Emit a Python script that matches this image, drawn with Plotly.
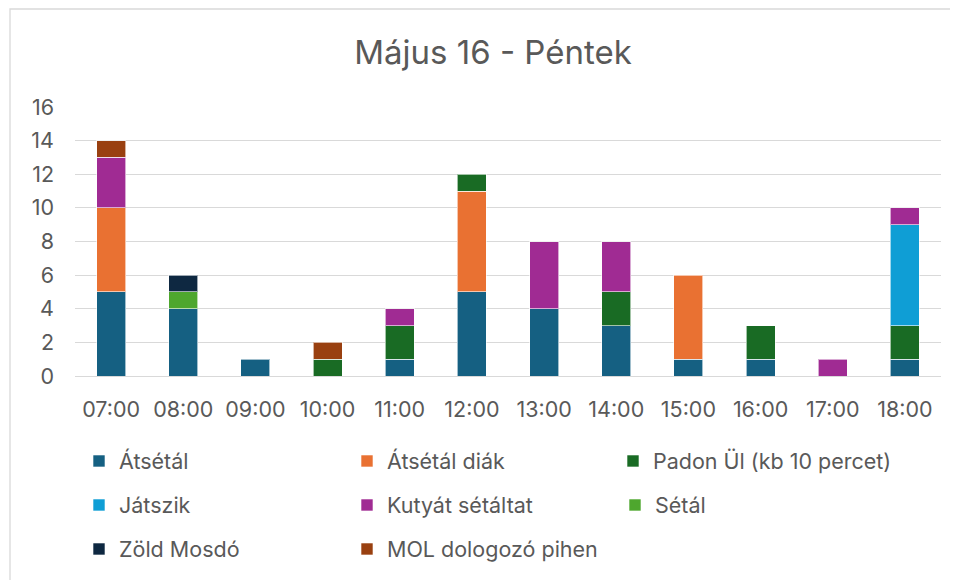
import plotly.graph_objects as go

hours = ["07:00", "08:00", "09:00", "10:00", "11:00", "12:00",
         "13:00", "14:00", "15:00", "16:00", "17:00", "18:00"]

atsetal       = [5, 4, 1, 0, 1, 5, 4, 3, 1, 1, 0, 1]
atsetal_diak  = [5, 0, 0, 0, 0, 6, 0, 0, 5, 0, 0, 0]
padon_ul      = [0, 0, 0, 1, 2, 1, 0, 2, 0, 2, 0, 2]
jatszik       = [0, 0, 0, 0, 0, 0, 0, 0, 0, 0, 0, 6]
kutyat        = [3, 0, 0, 0, 1, 0, 4, 3, 0, 0, 1, 1]
setal         = [0, 1, 0, 0, 0, 0, 0, 0, 0, 0, 0, 0]
zold_mosdo    = [0, 1, 0, 0, 0, 0, 0, 0, 0, 0, 0, 0]
mol_pihen     = [1, 0, 0, 1, 0, 0, 0, 0, 0, 0, 0, 0]

series = [
    ("Átsétál", atsetal, "#156082", "legend"),
    ("Átsétál diák", atsetal_diak, "#E97132", "legend"),
    ("Padon Ül (kb 10 percet)", padon_ul, "#196B24", "legend4"),
    ("Játszik", jatszik, "#0F9ED5", "legend2"),
    ("Kutyát sétáltat", kutyat, "#A02B93", "legend2"),
    ("Sétál", setal, "#4EA72E", "legend2"),
    ("Zöld Mosdó", zold_mosdo, "#0E2841", "legend3"),
    ("MOL dologozó pihen", mol_pihen, "#994010", "legend3"),
]

TXT = "#595959"
FONT = "Inter"
W, H = 950, 572
ML, MR, MT, MB = 67, 17, 99, 204
PW, PH = W - ML - MR, H - MT - MB

fig = go.Figure()
for name, vals, color, lg in series:
    fig.add_trace(go.Bar(
        x=hours, y=[v if v else None for v in vals], name=name,
        marker=dict(color=color, line=dict(color="rgba(255,255,255,0.6)", width=1)),
        legend=lg,
    ))

def leg(ypx, xpx=71):
    return dict(orientation="h", x=xpx / W, xref="container", y=1 - ypx / H, yref="container",
                yanchor="middle", xanchor="left", traceorder="normal",
                entrywidth=223, entrywidthmode="pixels",
                font=dict(family=FONT, size=21.5, color=TXT), bgcolor="rgba(0,0,0,0)")

leg4 = leg(453, 605)
leg4["entrywidth"] = 260

fig.update_layout(
    barmode="stack",
    bargap=0.6,
    width=W, height=H,
    margin=dict(l=ML, r=MR, t=MT, b=MB, autoexpand=False),
    paper_bgcolor="white", plot_bgcolor="white",
    title=dict(text="Május 16 - Péntek", x=485 / W, xanchor="center",
               y=1 - 44 / H, yanchor="middle", yref="container",
               font=dict(family=FONT, size=33, color=TXT)),
    font=dict(family=FONT, color=TXT),
    legend=leg(453),
    legend2=leg(497),
    legend3=leg(541),
    legend4=leg4,
    xaxis=dict(showgrid=False, showline=True, linecolor="#D9D9D9", linewidth=1.3,
               ticks="", ticklabelstandoff=14,
               tickfont=dict(family=FONT, size=21.5, color=TXT)),
    yaxis=dict(range=[0, 16], dtick=2, showgrid=True, gridcolor="#D9D9D9", gridwidth=1.3,
               zeroline=False, ticks="", ticklabelstandoff=20,
               tickfont=dict(family=FONT, size=21.5, color=TXT)),
    shapes=[dict(type="rect", xref="paper", yref="paper",
                 x0=(2 - ML) / PW, x1=(W + 20 - ML) / PW,
                 y0=-(MB + 20) / PH, y1=(H - 1 - MB) / PH,
                 line=dict(color="#D9D9D9", width=1.3), layer="below")],
)

fig.write_html("out.html")
